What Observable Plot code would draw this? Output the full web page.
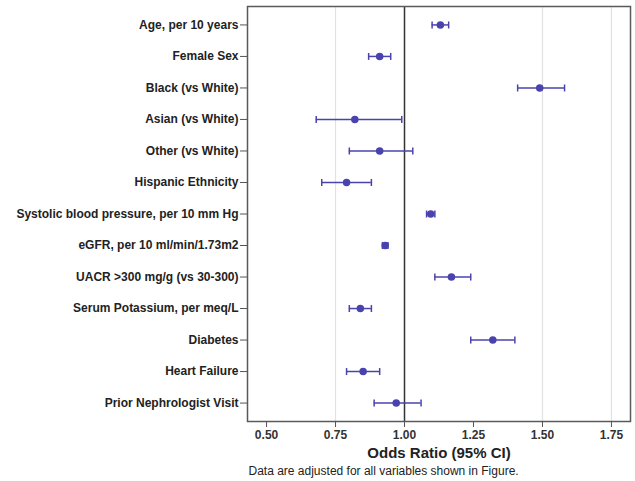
<!DOCTYPE html>
<html>
<head>
<meta charset="utf-8">
<script src="https://cdn.jsdelivr.net/npm/d3@7"></script>
<script src="https://cdn.jsdelivr.net/npm/@observablehq/plot@0.6"></script>
<style>
  body { margin: 0; background: #fff; }
  svg { font-family: "Liberation Sans", Arial, sans-serif; }
</style>
</head>
<body>
<div id="chart"></div>
<script>
const variables = [
  "Age, per 10 years",
  "Female Sex",
  "Black (vs White)",
  "Asian (vs White)",
  "Other (vs White)",
  "Hispanic Ethnicity",
  "Systolic blood pressure, per 10 mm Hg",
  "eGFR, per 10 ml/min/1.73m2",
  "UACR >300 mg/g (vs 30-300)",
  "Serum Potassium, per meq/L",
  "Diabetes",
  "Heart Failure",
  "Prior Nephrologist Visit"
];
const oddsRatio = [1.13, 0.91, 1.49, 0.82, 0.91, 0.79, 1.095, 0.93, 1.17, 0.84, 1.32, 0.85, 0.97];
const ciLow     = [1.10, 0.87, 1.41, 0.68, 0.80, 0.70, 1.08, 0.92, 1.11, 0.80, 1.24, 0.79, 0.89];
const ciHigh    = [1.16, 0.95, 1.58, 0.99, 1.03, 0.88, 1.11, 0.94, 1.24, 0.88, 1.40, 0.91, 1.06];
const xTicks = [0.5, 0.75, 1.0, 1.25, 1.5, 1.75];
const gridValues = [0.75, 1.5, 1.75];
const refValue = [1];
const xLabel = "Odds Ratio (95% CI)";
const caption = "Data are adjusted for all variables shown in Figure.";

const data = variables.map((v, i) => ({name: v, or: oddsRatio[i], lo: ciLow[i], hi: ciHigh[i]}));
const color = "#4a43ad";

// vertical bar symbol for the CI caps
const capSymbol = {
  draw(context, size) {
    const h = Math.sqrt(size / Math.PI);
    context.moveTo(0, -h);
    context.lineTo(0, h);
  }
};

const chart = Plot.plot({
  width: 635,
  height: 481,
  marginTop: 6,
  marginBottom: 60,
  marginLeft: 247,
  marginRight: 5,
  style: {fontFamily: "'Liberation Sans', Arial, sans-serif", background: "#fff"},
  x: {domain: [0.431, 1.819], ticks: xTicks, tickFormat: d3.format(".2f")},
  y: {domain: variables, type: "point", padding: 0.585, round: false},
  marks: [
    Plot.gridX(gridValues, {stroke: "#e2e2e2", strokeOpacity: 1, strokeWidth: 1.2}),
    Plot.ruleX(refValue, {stroke: "#333", strokeWidth: 1.5}),
    Plot.ruleY(data, {y: "name", x1: "lo", x2: "hi", stroke: color, strokeWidth: 1.5}),
    Plot.dot(data, {x: "lo", y: "name", r: 3.5, symbol: capSymbol, stroke: color, strokeWidth: 1.5, fill: "none"}),
    Plot.dot(data, {x: "hi", y: "name", r: 3.5, symbol: capSymbol, stroke: color, strokeWidth: 1.5, fill: "none"}),
    Plot.dot(data, {x: "or", y: "name", r: 3, fill: color, stroke: color}),
    Plot.frame({stroke: "#5a5a5a", strokeWidth: 1.5}),
    Plot.axisX({ticks: xTicks, tickFormat: d3.format(".2f"), tickSize: 6, tickPadding: 3, fontSize: 12, fontWeight: "bold", fill: "#333", stroke: "#555", label: null}),
    Plot.axisY({tickSize: 7, tickPadding: 2, fontSize: 12, fontWeight: "bold", fill: "#222", stroke: "#555", label: null}),
    Plot.text([xLabel], {frameAnchor: "bottom", dy: 36, fontSize: 15, fontWeight: "bold", fill: "#222", text: d => d}),
    Plot.text([caption], {frameAnchor: "bottom-left", dy: 53, dx: 1, textAnchor: "start", fontSize: 12, fill: "#222", text: d => d})
  ]
});
document.getElementById("chart").appendChild(chart);
</script>
</body>
</html>
